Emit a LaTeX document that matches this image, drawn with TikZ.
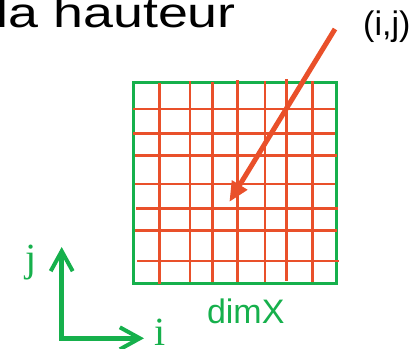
\documentclass[tikz,border=0pt]{standalone}
\usepackage{fontspec}
\setmainfont{Liberation Serif}
\setsansfont{Liberation Sans}
\usetikzlibrary{arrows.meta,positioning}
\definecolor{gridred}{RGB}{233,80,42}
\definecolor{gridgreen}{RGB}{22,176,76}

\begin{document}
\begin{tikzpicture}[
    x=1pt, y=-1pt,
    txt/.style={inner sep=0pt, anchor=base west},
    gridline/.style={gridred, line width=2.8pt},
    pointer/.style={-{Triangle[length=20pt,width=17pt]}, gridred, line width=5pt},
    axis/.style={{Straight Barb[length=20pt,width=22pt,line width=4pt]}-{Straight Barb[length=20pt,width=22pt,line width=4pt]}, gridgreen, line width=4.5pt, line join=miter}
]
\useasboundingbox (0,0) rectangle (414,348);

% texts
\node[txt, font=\sffamily\fontsize{42}{42}\selectfont] (title) at (-3.5,27.3) {\scalebox{1.28}[1]{la hauteur}};
\node[txt, font=\sffamily\fontsize{34}{34}\selectfont] (ij) at (363,35) {(i,j)};
\node[txt, font=\sffamily\fontsize{34}{34}\selectfont, text=gridgreen] (dimx) at (206.8,323.3) {dimX};
\node[txt, font=\fontsize{40}{40}\selectfont, text=gridgreen] (jlab) at (25,271) {j};
\node[txt, font=\fontsize{40}{40}\selectfont, text=gridgreen] (ilab) at (154.5,345) {i};

% the grid
\node[draw=gridgreen, line width=3pt, minimum width=202.7pt, minimum height=201.3pt, inner sep=0pt] (grid) at (234.7,183.3) {};
\foreach \x/\a/\b in {159.3/83.3/284, 190/81/282, 212.3/82/282, 237.3/80/281.7, 265/81/282, 286.7/79/281, 312.3/81/281.7}
    \draw[gridline] (\x,\a) -- (\x,\b);
\foreach \y/\a/\b in {109/133.3/335, 133.3/133.3/334.7, 155.7/135/336.7, 184/135/335, 208.3/136/338, 230.7/135/337, 261/137/338.7}
    \draw[gridline] (\a,\y) -- (\b,\y);

% pointer to cell (i,j)
\coordinate (ijsrc) at (335,29);
\coordinate (ijcell) at (229.3,202);
\draw[pointer] (ijsrc) -- (ijcell);

% axes
\coordinate (orig) at (61.7,338.3);
\coordinate (jtip) at (61.7,247);
\coordinate (itip) at (144,338.3);
\draw[axis] (jtip) -- (orig) -- (itip);
\end{tikzpicture}
\end{document}
